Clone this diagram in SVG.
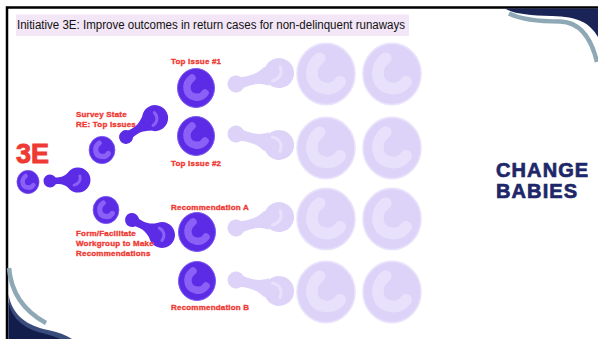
<svg xmlns="http://www.w3.org/2000/svg" xmlns:xlink="http://www.w3.org/1999/xlink" width="598" height="339" viewBox="0 0 598 339">
  <style>
    .dark { fill: #5b2be6; }
    .dark-rim { fill: #5b2be6; stroke: #7d5cf0; stroke-width: 1; }
    .dark-nuc { fill: none; stroke: #8a60f6; stroke-linecap: round; stroke-width: 7.5; }
    .dark-hl { fill: none; stroke: #8a60f6; stroke-linecap: round; stroke-width: 3; }
    .light { fill: #ddd2f8; }
    .light-rim { fill: #ddd2f8; stroke: #e9e3fb; stroke-width: 1; }
    .light-nuc { fill: none; stroke: #e8e1fc; stroke-linecap: round; stroke-width: 7.5; }
    .light-hl { fill: none; stroke: #e8e1fc; stroke-linecap: round; stroke-width: 3; }
    .lbl { font-family: "Liberation Sans", Arial, sans-serif; font-weight: bold; font-size: 8px; fill: #ef3a34; stroke: #ef3a34; stroke-width: 0.35; letter-spacing: 0.2px; }
    .title { font-family: "Liberation Sans", Arial, sans-serif; font-size: 12px; fill: #111; }
    .brand { font-family: "Liberation Sans", Arial, sans-serif; font-weight: bold; font-size: 20px; fill: #1e2769; stroke: #1e2769; stroke-width: 0.7; letter-spacing: 1.1px; }
  </style>
  <defs>
    <!-- cell body with curved nucleus, unit size rx 18.5 / ry 19.5 -->
    <g id="cell-dark">
      <ellipse class="dark-rim" cx="0" cy="0" rx="18.5" ry="19.5"/>
      <path class="dark-nuc" d="M -4,-10 C -12,-4 -10,8 -1,9 C 3,10 7,8 9,5"/>
    </g>
    <g id="cell-light">
      <ellipse class="light-rim" cx="0" cy="0" rx="18.5" ry="19.5"/>
      <path class="light-nuc" d="M -4,-10 C -12,-4 -10,8 -1,9 C 3,10 7,8 9,5"/>
    </g>
  </defs>

  <rect width="598" height="339" fill="#ffffff"/>

  <!-- slide frame -->
  <path d="M 7,339 L 7,7.5 L 598,7.5" fill="none" stroke="#000" stroke-width="2.5"/>

  <!-- corner waves -->
  <g id="wave-top-right">
    <path d="M 505,8.5 L 598,8.5 L 598,37 C 590,23 578,16.5 552,16 C 528,15.5 514,14 505,8.5 Z" fill="#1a2457"/>
    <path d="M 509,13.5 C 522,20 540,21.5 560,21.5 C 580,22 591,37 597,62" fill="none" stroke="#8fa8b5" stroke-width="4.5"/>
  </g>
  <g id="wave-bottom-left">
    <path d="M 9,268 C 11,292 22,310 46,323" fill="none" stroke="#8fa8b5" stroke-width="4.5"/>
    <path d="M 8.5,294 C 12,316 28,326 48,330 C 58,332 66,335 72,339 L 8.5,339 Z" fill="#3a4c7c"/>
    <path d="M 8.5,302 C 12,320 26,329 42,333 C 50,335 56,337 60,339 L 8.5,339 Z" fill="#131d4c"/>
  </g>

  <!-- title -->
  <g id="title">
    <rect x="16" y="14.5" width="393" height="21.5" fill="#f3e6f6"/>
    <text class="title" x="17" y="28.5" textLength="388" lengthAdjust="spacingAndGlyphs">Initiative 3E: Improve outcomes in return cases for non-delinquent runaways</text>
  </g>

  <!-- links between stages -->
  <g id="links">
    <g transform="translate(50,181) rotate(-2)">
      <circle class="dark" cx="0" cy="0" r="6.5"/>
      <path class="dark" d="M 0,-4.5 C 9,-2.5 12,-2.5 19,-8 L 19,8 C 12,2.5 9,2.5 0,4.5 Z"/>
      <circle class="dark" cx="28" cy="0" r="12.5"/>
      <path class="dark-hl" d="M 24,5 C 29,4 31,0 30,-4"/>
    </g>
    <g transform="translate(126,137) rotate(-33)">
      <circle class="dark" cx="0" cy="0" r="7"/>
      <path class="dark" d="M 0,-5 C 12,-3 16,-3 25,-8.5 L 25,8.5 C 16,3 12,3 0,5 Z"/>
      <circle class="dark" cx="34.7" cy="0" r="13"/>
      <path class="dark-hl" d="M 29,5 C 35,5 38,0 37,-5"/>
    </g>
    <g transform="translate(132,220) rotate(26.6)">
      <circle class="dark" cx="0" cy="0" r="7"/>
      <path class="dark" d="M 0,-5 C 12,-3 16,-3 24,-8.5 L 24,8.5 C 16,3 12,3 0,5 Z"/>
      <circle class="dark" cx="33.5" cy="0" r="13"/>
      <path class="dark-hl" d="M 28,-5 C 34,-5 37,0 36,5"/>
    </g>
    <g transform="translate(236,84) rotate(-14.3)">
      <circle class="light" cx="0" cy="0" r="8.5"/>
      <path class="light" d="M 0,-6.5 C 15,-4 22,-4 32,-10 L 32,10 C 22,4 15,4 0,6.5 Z"/>
      <circle class="light" cx="44.4" cy="0" r="15"/>
      <path class="light-hl" d="M 36,6 C 44,6 48,1 47,-6"/>
    </g>
    <g transform="translate(236,134) rotate(14.3)">
      <circle class="light" cx="0" cy="0" r="8.5"/>
      <path class="light" d="M 0,-6.5 C 15,-4 22,-4 32,-10 L 32,10 C 22,4 15,4 0,6.5 Z"/>
      <circle class="light" cx="44.4" cy="0" r="15"/>
      <path class="light-hl" d="M 36,-6 C 44,-6 48,-1 47,6"/>
    </g>
    <g transform="translate(236,228) rotate(-14.3)">
      <circle class="light" cx="0" cy="0" r="8.5"/>
      <path class="light" d="M 0,-6.5 C 15,-4 22,-4 32,-10 L 32,10 C 22,4 15,4 0,6.5 Z"/>
      <circle class="light" cx="44.4" cy="0" r="15"/>
      <path class="light-hl" d="M 36,6 C 44,6 48,1 47,-6"/>
    </g>
    <g transform="translate(236,280) rotate(14.3)">
      <circle class="light" cx="0" cy="0" r="8.5"/>
      <path class="light" d="M 0,-6.5 C 15,-4 22,-4 32,-10 L 32,10 C 22,4 15,4 0,6.5 Z"/>
      <circle class="light" cx="44.4" cy="0" r="15"/>
      <path class="light-hl" d="M 36,-6 C 44,-6 48,-1 47,6"/>
    </g>
  </g>

  <!-- start -->
  <g id="start">
    <text x="16" y="163" font-family="'Liberation Sans', Arial, sans-serif" font-weight="bold" font-size="27" fill="#ef3a34" stroke="#ef3a34" stroke-width="0.9">3E</text>
    <use xlink:href="#cell-dark" transform="translate(28,182) scale(0.6)"/>
  </g>

  <!-- survey branch -->
  <g id="survey">
    <use xlink:href="#cell-dark" transform="translate(102,150) scale(0.7)"/>
    <text class="lbl" x="76" y="117">Survey State</text>
    <text class="lbl" x="76" y="127">RE: Top Issues</text>
  </g>

  <!-- workgroup branch -->
  <g id="workgroup">
    <use xlink:href="#cell-dark" transform="translate(106,210) scale(0.7)"/>
  </g>

  <!-- outcomes -->
  <g id="top-issue-1">
    <use xlink:href="#cell-dark" transform="translate(196,88)"/>
    <text class="lbl" x="171" y="64">Top Issue #1</text>
  </g>
  <g id="top-issue-2">
    <use xlink:href="#cell-dark" transform="translate(196,136)"/>
    <text class="lbl" x="171" y="166">Top Issue #2</text>
  </g>
  <g id="recommendation-a">
    <use xlink:href="#cell-dark" transform="translate(197,232)"/>
    <text class="lbl" x="171" y="210">Recommendation A</text>
  </g>
  <g id="recommendation-b">
    <use xlink:href="#cell-dark" transform="translate(197,281)"/>
    <text class="lbl" x="171" y="310">Recommendation B</text>
  </g>

  <!-- future stages -->
  <g id="future-stages">
    <use xlink:href="#cell-light" transform="translate(326,74) scale(1.57)"/>
    <use xlink:href="#cell-light" transform="translate(392,74) scale(1.57)"/>
    <use xlink:href="#cell-light" transform="translate(326,148) scale(1.57)"/>
    <use xlink:href="#cell-light" transform="translate(392,148) scale(1.57)"/>
    <use xlink:href="#cell-light" transform="translate(326,219) scale(1.57)"/>
    <use xlink:href="#cell-light" transform="translate(392,219) scale(1.57)"/>
    <use xlink:href="#cell-light" transform="translate(326,292) scale(1.57)"/>
    <use xlink:href="#cell-light" transform="translate(392,292) scale(1.57)"/>
  </g>

  <!-- workgroup label sits over its link -->
  <g id="workgroup-label">
    <text class="lbl" x="76" y="236">Form/Facilitate</text>
    <text class="lbl" x="76" y="246">Workgroup to Make</text>
    <text class="lbl" x="76" y="256">Recommendations</text>
  </g>

  <!-- brand -->
  <g id="brand">
    <text class="brand" x="496" y="177">CHANGE</text>
    <text class="brand" x="496" y="198">BABIES</text>
  </g>
</svg>
